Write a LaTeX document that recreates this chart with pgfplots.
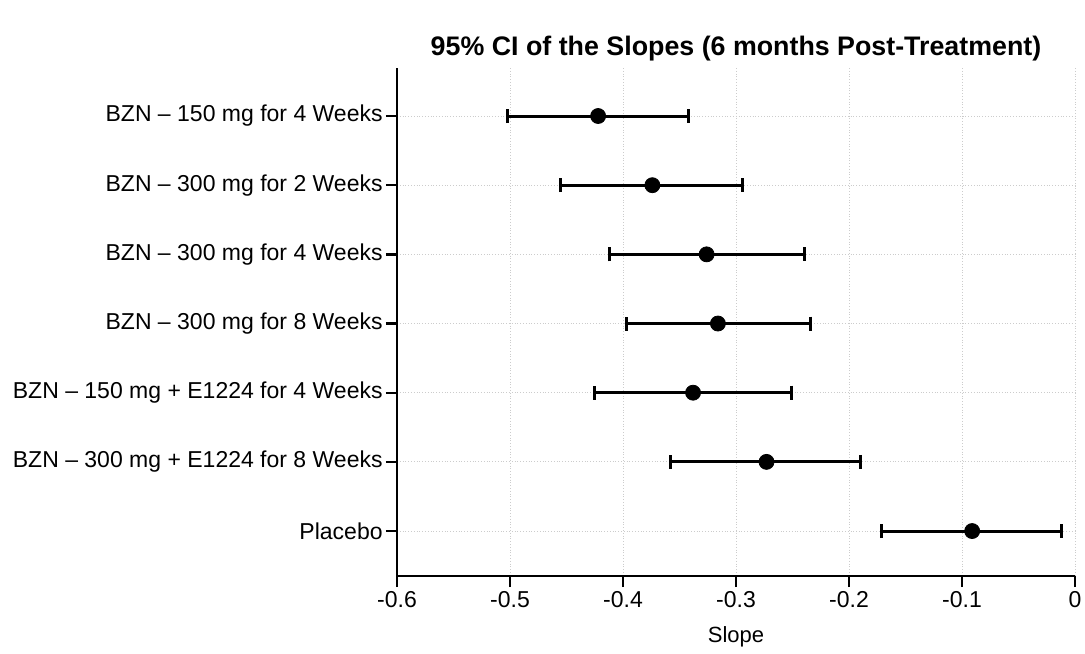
\documentclass[border=0pt]{standalone}
\usepackage{fontspec}
\setmainfont{Liberation Sans}
\usepackage{pgfplots}
\usepackage{pgfplotstable}
\pgfplotsset{compat=1.18}
\pgfplotstableread{
y  x       em     ep
1  -0.422  0.080  0.080
2  -0.374  0.081  0.080
3  -0.326  0.086  0.087
4  -0.316  0.081  0.082
5  -0.338  0.087  0.087
6  -0.273  0.085  0.083
7  -0.091  0.080  0.079
}\datatable
\begin{document}
\begin{tikzpicture}
\path[use as bounding box] (-198.5pt,-38.5pt) rectangle (344pt,288pt);
\begin{axis}[
  at={(0pt,0pt)}, anchor=south west,
  scale only axis, width=339pt, height=254pt,
  xmin=-0.6, xmax=0, ymin=0.306, ymax=7.65,
  y dir=reverse,
  axis x line*=bottom, axis y line*=left,
  axis line style={-, line width=1.2pt, black},
  xtick={-0.6,-0.5,-0.4,-0.3,-0.2,-0.1,0},
  xticklabels={-0.6,-0.5,-0.4,-0.3,-0.2,-0.1,0},
  ytick={1,2,3,4,5,6,7},
  yticklabels={BZN – 150 mg for 4 Weeks, BZN – 300 mg for 2 Weeks, BZN – 300 mg for 4 Weeks, BZN – 300 mg for 8 Weeks, BZN – 150 mg + E1224 for 4 Weeks, BZN – 300 mg + E1224 for 8 Weeks, Placebo},
  tick align=outside, major tick length=5.5pt,
  tick style={line width=1.2pt, black},
  ticklabel style={font=\fontsize{11.5}{13}\selectfont},
  yticklabel style={inner sep=0pt, xshift=-1.5pt},
  xticklabel style={inner sep=0pt, yshift=-2pt},
  xlabel={Slope},
  xlabel style={font=\fontsize{11}{13}\selectfont, inner sep=0pt, yshift=-9pt},
  grid=major,
  major grid style={densely dotted, line width=0.4pt, black!20},
  clip=false,
]
\addplot[black, only marks, mark=*, mark size=3.75pt,
  error bars/.cd, x dir=both, x explicit,
  error bar style={line width=1.5pt, black},
  error mark options={line width=1.5pt, mark size=3.5pt, black, rotate=90}]
  table[x=x, y=y, x error plus=ep, x error minus=em] {\datatable};
\end{axis}
\node[font=\bfseries\fontsize{13.4}{15}\selectfont] at (169.5pt,263.5pt) {95\% CI of the Slopes (6 months Post-Treatment)};
\end{tikzpicture}
\end{document}
